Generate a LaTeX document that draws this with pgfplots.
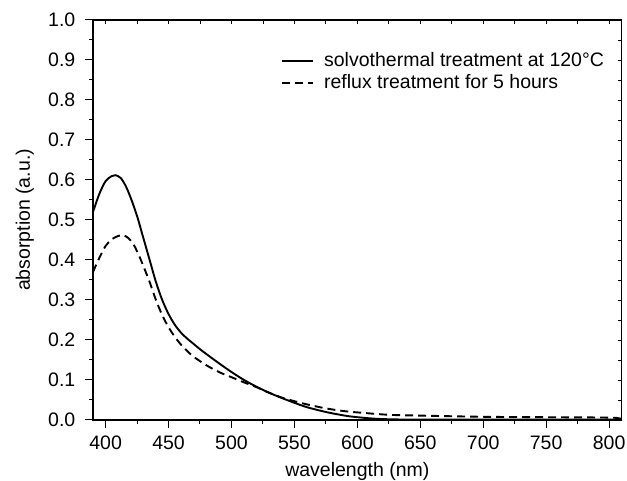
\documentclass[border=0pt]{standalone}
\usepackage{pgfplots}
\pgfplotsset{compat=1.18}
\usepackage{fontspec}
\setmainfont{Liberation Sans}
\begin{document}
\fontsize{19.5}{23}\selectfont
\begin{tikzpicture}
\begin{axis}[
  name=ax,
  scale only axis,
  width=528.7pt, height=400pt,
  xmin=390, xmax=810, ymin=0, ymax=1.0,
  xtick={400,450,...,800},
  ytick={0,0.1,...,1.0},
  minor x tick num=1, minor y tick num=1,
  /pgf/number format/assume math mode=true,
  tick align=outside,
  major tick length=8pt, minor tick length=4pt,
  xtick pos=left, ytick pos=left,
  axis line style={line width=1.2pt},
  every tick/.style={line width=1pt, black},
  tick label style={font=\fontsize{19.5}{23}\selectfont},
  yticklabel style={xshift=-3pt, /pgf/number format/.cd,fixed,fixed zerofill,precision=1},
  xticklabel style={yshift=-1pt},
  label style={font=\fontsize{19.5}{23}\selectfont},
  xlabel={wavelength (nm)},
  ylabel={absorption (a.u.)},
  xlabel style={yshift=0pt},
  ylabel style={yshift=1pt},
  legend style={draw=none, fill=none, at={(rel axis cs:0.35,0.93)}, anchor=north west,
    font=\fontsize{19.5}{23}\selectfont, row sep=1pt},
  legend cell align=left,
  legend image code/.code={\draw[#1] (0pt,0pt) -- (31pt,0pt); \path (39pt,0pt);},
  clip=true,
]
\addplot[black, line width=1.9pt, smooth] coordinates {
(390,0.52) (395,0.565) (400,0.597) (405,0.61) (408,0.612) (412,0.605) (416,0.585)
(420,0.555) (425,0.51) (430,0.455) (435,0.40) (440,0.345) (445,0.30) (450,0.265)
(455,0.238) (460,0.218) (465,0.203) (470,0.19) (475,0.177) (480,0.165) (490,0.142)
(500,0.12) (510,0.10) (520,0.083) (530,0.068) (540,0.055) (550,0.043) (560,0.032)
(575,0.02) (590,0.011) (600,0.007) (615,0.003) (630,0.0015) (650,0.001) (700,0.001)
(750,0.001) (810,0.001)
};
\addlegendentry{solvothermal treatment at 120°C}
\addplot[black, line width=1.9pt, smooth, dash pattern=on 8pt off 5pt] coordinates {
(390,0.37) (395,0.405) (400,0.435) (405,0.452) (410,0.46) (414,0.462) (418,0.455)
(422,0.44) (426,0.415) (430,0.385) (435,0.345) (440,0.30) (445,0.262) (450,0.232)
(455,0.208) (460,0.188) (465,0.172) (470,0.158) (480,0.137) (490,0.12) (500,0.107)
(510,0.094) (520,0.082) (530,0.068) (540,0.056) (550,0.047) (560,0.039) (575,0.029)
(590,0.022) (600,0.019) (625,0.013) (650,0.011) (700,0.008) (750,0.007) (800,0.006)
(808,0.004) (810,0.003)
};
\addlegendentry{reflux treatment for 5 hours}
\end{axis}
% mirrored inward ticks on top and right
\begin{axis}[
  scale only axis,
  width=528.7pt, height=400pt,
  xmin=390, xmax=810, ymin=0, ymax=1.0,
  xtick={400,450,...,800},
  ytick={0,0.1,...,1.0},
  minor x tick num=1, minor y tick num=1,
  xticklabels={}, yticklabels={},
  tick align=inside,
  major tick length=4pt, minor tick length=4pt,
  xtick pos=right, ytick pos=right,
  axis line style={line width=1.2pt},
  every tick/.style={line width=0.8pt, black},
]
\end{axis}
\pgfresetboundingbox
\path[use as bounding box] ([xshift=-93pt,yshift=-61pt]ax.south west) rectangle ([xshift=5.3pt,yshift=20pt]ax.north east);
\end{tikzpicture}
\end{document}
